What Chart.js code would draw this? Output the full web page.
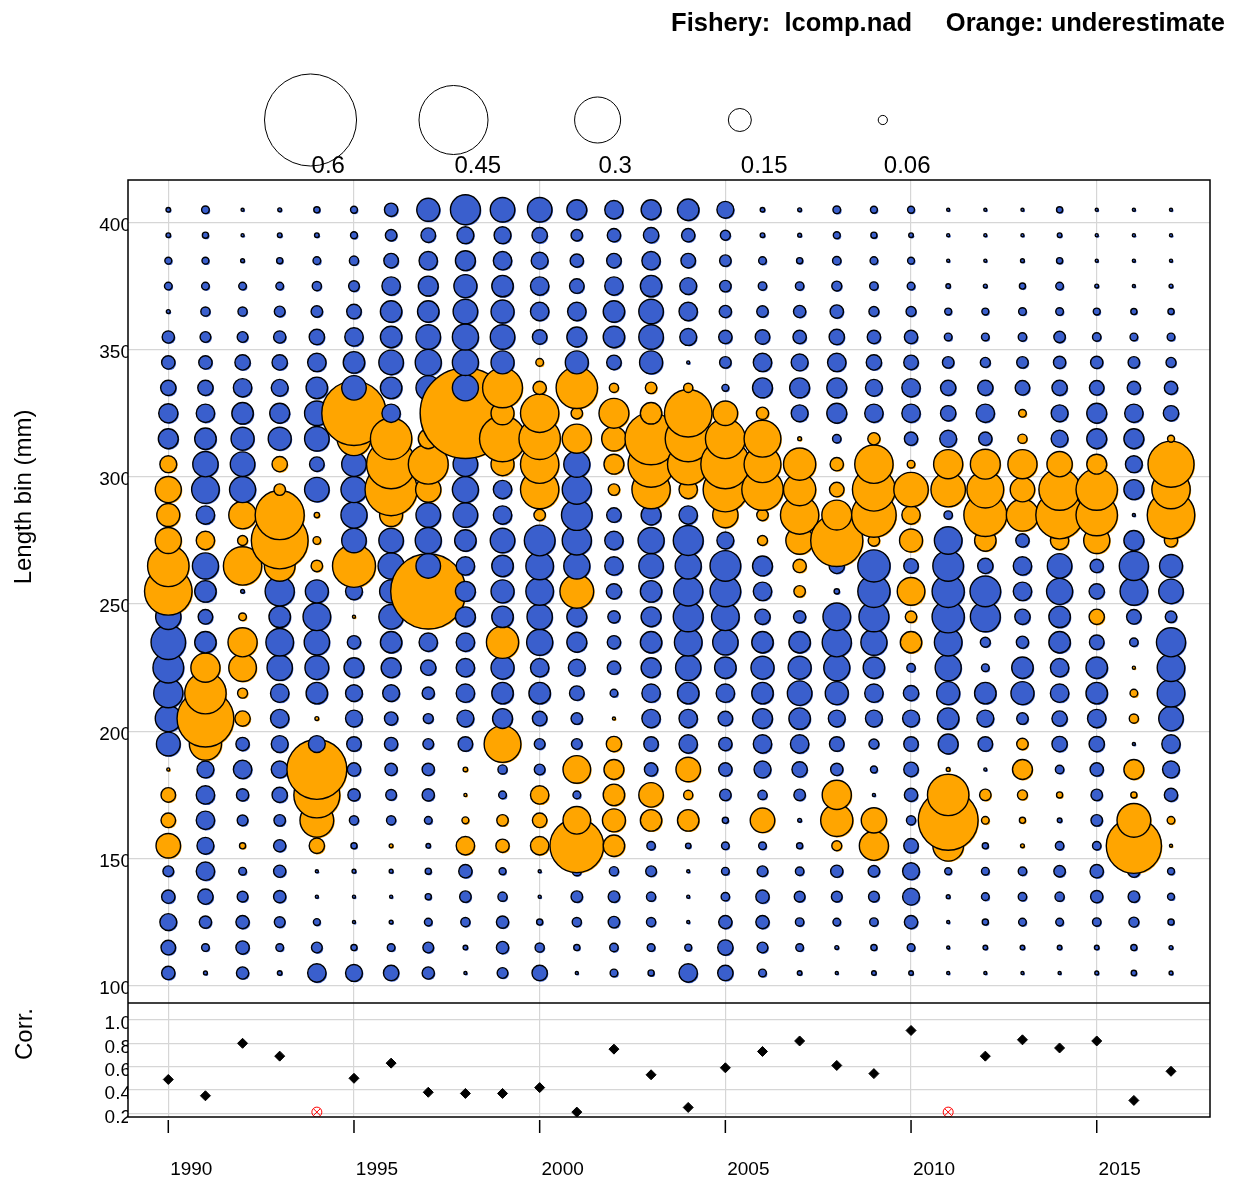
<!DOCTYPE html>
<html>
<head>
<meta charset="utf-8">
<script src="https://cdn.jsdelivr.net/npm/chart.js@4.4.1/dist/chart.umd.min.js"></script>
<style>
  html, body { margin: 0; padding: 0; background: #fff; }
  canvas { display: block; }
</style>
</head>
<body>
<canvas id="bubbleChart" width="1235" height="1179"></canvas>
<script>
// Pearson residuals, length comps, fishery lcomp.nad
// positive = orange (underestimate), negative = blue

const years = [1990, 1991, 1992, 1993, 1994, 1995, 1996, 1997, 1998, 1999,
  2000, 2001, 2002, 2003, 2004, 2005, 2006, 2007, 2008, 2009,
  2010, 2011, 2012, 2013, 2014, 2015, 2016, 2017];

// length bins, bottom to top
const bins = [105, 115, 125, 135, 145, 155, 165, 175, 185, 195, 205, 215, 225, 235, 245,
  255, 265, 275, 285, 295, 305, 315, 325, 335, 345, 355, 365, 375, 385, 395, 405];

const res1990 = [-0.087, -0.095, -0.11, -0.087, -0.07, 0.16, 0.095, 0.095, 0.02, -0.155, -0.17, -0.19, -0.2, -0.225, -0.165, 0.31, 0.27, 0.17, 0.15, 0.17, 0.11, -0.13, -0.125, -0.1, -0.087, -0.08, -0.025, -0.05, -0.045, -0.03, -0.03];
const res1991 = [-0.025, -0.05, -0.08, -0.1, -0.12, -0.11, -0.12, -0.12, -0.11, 0.21, 0.37, 0.27, 0.19, -0.14, -0.095, -0.14, -0.17, 0.12, -0.12, -0.18, -0.165, -0.14, -0.12, -0.1, -0.087, -0.07, -0.06, -0.05, -0.045, -0.04, -0.05];
const res1992 = [-0.08, -0.087, -0.087, -0.07, -0.05, 0.04, -0.07, -0.08, -0.12, -0.087, 0.1, 0.065, 0.18, 0.19, 0.05, -0.025, 0.25, 0.065, 0.18, -0.17, -0.16, -0.15, -0.14, -0.12, -0.1, -0.07, -0.06, -0.05, -0.025, -0.02, -0.02];
const res1993 = [-0.03, -0.05, -0.07, -0.08, -0.08, -0.08, -0.075, -0.1, -0.11, -0.11, -0.12, -0.12, -0.165, -0.18, -0.14, -0.19, 0.2, 0.37, 0.32, 0.075, 0.1, -0.15, -0.13, -0.11, -0.1, -0.08, -0.07, -0.05, -0.04, -0.03, -0.025];
const res1994 = [-0.12, -0.07, -0.045, -0.02, -0.02, 0.1, 0.22, 0.3, 0.39, -0.11, 0.025, -0.14, -0.155, -0.165, -0.18, -0.15, 0.075, 0.05, 0.035, -0.16, -0.095, -0.16, -0.16, -0.14, -0.12, -0.1, -0.075, -0.06, -0.05, -0.03, -0.04];
const res1995 = [-0.11, -0.04, -0.02, -0.02, -0.025, -0.04, -0.06, -0.08, -0.087, -0.095, -0.11, -0.11, -0.13, -0.087, 0.02, -0.11, 0.28, -0.16, -0.17, -0.17, -0.16, 0.22, 0.42, -0.16, -0.14, -0.12, -0.095, -0.07, -0.06, -0.045, -0.045];
const res1996 = [-0.1, -0.05, -0.025, -0.02, -0.025, 0.025, -0.06, -0.07, -0.08, -0.087, -0.087, -0.11, -0.13, -0.14, -0.16, -0.15, -0.17, -0.16, 0.15, 0.34, 0.32, 0.27, -0.12, -0.14, -0.16, -0.14, -0.14, -0.12, -0.095, -0.075, -0.087];
const res1997 = [-0.08, -0.07, -0.05, -0.04, -0.04, -0.03, -0.05, -0.08, -0.08, -0.07, -0.065, -0.08, -0.1, -0.12, -0.1, 0.49, -0.16, -0.17, -0.16, 0.165, 0.26, 0.13, 0.1, -0.16, -0.17, -0.16, -0.14, -0.13, -0.12, -0.095, -0.15];
const res1998 = [-0.02, -0.03, -0.06, -0.075, -0.087, 0.12, 0.045, 0.02, 0.03, -0.095, -0.11, -0.12, -0.12, -0.12, -0.13, -0.13, -0.12, -0.14, -0.16, -0.17, -0.16, 0.2, 0.59, -0.17, -0.17, -0.17, -0.16, -0.15, -0.13, -0.11, -0.195];
const res1999 = [-0.07, -0.08, -0.08, -0.06, -0.045, 0.087, 0.075, -0.05, -0.06, 0.24, -0.13, -0.14, -0.15, 0.21, -0.14, -0.15, -0.14, -0.16, -0.12, -0.12, 0.15, 0.3, 0.15, 0.26, -0.15, -0.16, -0.15, -0.14, -0.12, -0.11, -0.16];
const res2000 = [-0.1, -0.06, -0.04, -0.02, -0.02, 0.12, 0.095, 0.12, -0.07, -0.07, -0.095, -0.14, -0.12, -0.17, -0.165, -0.18, -0.18, -0.2, 0.075, 0.25, 0.25, 0.27, 0.25, 0.087, 0.05, -0.095, -0.12, -0.12, -0.11, -0.1, -0.16];
const res2001 = [-0.02, -0.04, -0.06, -0.075, -0.06, 0.35, 0.18, -0.05, 0.18, -0.07, -0.075, -0.095, -0.11, -0.13, -0.13, 0.22, -0.17, -0.19, -0.2, -0.19, -0.17, 0.19, 0.075, 0.27, -0.15, -0.13, -0.12, -0.095, -0.087, -0.075, -0.13];
const res2002 = [-0.05, -0.055, -0.075, -0.075, -0.06, 0.14, 0.15, 0.14, 0.13, 0.1, 0.02, -0.05, -0.087, -0.087, -0.08, -0.1, -0.12, -0.12, -0.095, 0.075, 0.13, 0.16, 0.195, 0.06, -0.095, -0.14, -0.14, -0.12, -0.095, -0.087, -0.12];
const res2003 = [-0.04, -0.05, -0.06, -0.06, -0.07, -0.055, 0.14, 0.16, -0.087, -0.095, -0.12, -0.12, -0.13, -0.14, -0.13, -0.14, -0.16, -0.17, -0.13, 0.25, 0.3, 0.34, 0.14, 0.075, -0.15, -0.16, -0.16, -0.14, -0.12, -0.1, -0.13];
const res2004 = [-0.12, -0.045, -0.02, -0.02, -0.02, -0.035, 0.14, 0.06, 0.16, -0.12, -0.12, -0.14, -0.165, -0.18, -0.195, -0.19, -0.17, -0.195, -0.12, 0.12, 0.27, 0.3, 0.31, 0.06, -0.02, -0.11, -0.12, -0.11, -0.095, -0.087, -0.14];
const res2005 = [-0.1, -0.1, -0.087, -0.055, -0.05, -0.05, -0.04, -0.075, -0.087, -0.087, -0.095, -0.12, -0.14, -0.165, -0.18, -0.2, -0.2, -0.11, 0.165, 0.29, 0.32, 0.26, 0.16, -0.045, -0.075, -0.087, -0.08, -0.075, -0.075, -0.065, -0.11];
const res2006 = [-0.05, -0.07, -0.087, -0.087, -0.07, -0.05, 0.16, -0.06, -0.11, -0.12, -0.13, -0.14, -0.15, -0.14, -0.1, -0.12, -0.13, 0.065, 0.075, 0.27, 0.24, 0.24, 0.08, -0.13, -0.12, -0.095, -0.075, -0.055, -0.05, -0.03, -0.03];
const res2007 = [-0.03, -0.05, -0.055, -0.07, -0.055, -0.04, -0.025, -0.075, -0.1, -0.12, -0.14, -0.16, -0.15, -0.14, -0.08, 0.075, 0.087, 0.18, 0.25, 0.21, 0.21, 0.025, -0.11, -0.13, -0.11, -0.087, -0.08, -0.055, -0.04, -0.025, -0.025];
const res2008 = [-0.02, -0.025, -0.05, -0.07, -0.08, 0.065, 0.21, 0.19, -0.08, -0.095, -0.11, -0.15, -0.17, -0.19, -0.18, -0.035, -0.1, 0.34, 0.195, 0.095, 0.087, -0.055, -0.13, -0.13, -0.12, -0.1, -0.087, -0.065, -0.055, -0.045, -0.05];
const res2009 = [-0.03, -0.04, -0.055, -0.07, -0.075, 0.19, 0.165, -0.02, -0.045, -0.065, -0.11, -0.12, -0.14, -0.17, -0.195, -0.21, -0.21, 0.075, 0.29, 0.28, 0.25, 0.08, -0.12, -0.11, -0.1, -0.087, -0.065, -0.055, -0.05, -0.04, -0.045];
const res2010 = [-0.03, -0.05, -0.087, -0.11, -0.11, -0.095, -0.06, -0.087, -0.095, -0.095, -0.11, -0.1, -0.055, 0.14, 0.075, 0.18, -0.095, 0.15, 0.12, 0.225, 0.05, -0.087, -0.12, -0.12, -0.095, -0.087, -0.065, -0.05, -0.045, -0.03, -0.045];
const res2011 = [-0.02, -0.02, -0.02, -0.025, -0.045, 0.2, 0.39, 0.27, 0.025, -0.13, -0.14, -0.15, -0.17, -0.18, -0.21, -0.21, -0.2, -0.18, -0.055, 0.225, 0.19, -0.11, -0.1, -0.1, -0.075, -0.05, -0.045, -0.03, -0.02, -0.02, -0.02];
const res2012 = [-0.02, -0.03, -0.04, -0.05, -0.05, -0.04, 0.05, 0.075, -0.02, -0.095, -0.11, -0.14, -0.05, -0.065, -0.195, -0.2, -0.1, 0.14, 0.28, 0.24, 0.195, -0.087, -0.12, -0.1, -0.065, -0.05, -0.045, -0.025, -0.02, -0.02, -0.02];
const res2013 = [-0.02, -0.03, -0.05, -0.055, -0.055, 0.025, 0.04, 0.065, 0.13, 0.075, -0.075, -0.15, -0.14, -0.08, -0.1, -0.12, -0.12, -0.087, 0.21, 0.16, 0.19, 0.06, 0.05, -0.095, -0.075, -0.055, -0.05, -0.04, -0.025, -0.02, -0.02];
const res2014 = [-0.02, -0.03, -0.05, -0.06, -0.075, -0.055, -0.03, 0.04, -0.055, -0.1, -0.1, -0.12, -0.12, -0.14, -0.14, -0.17, -0.16, 0.12, 0.31, 0.27, 0.165, -0.11, -0.11, -0.1, -0.08, -0.075, -0.05, -0.05, -0.04, -0.03, -0.04];
const res2015 = [-0.025, -0.03, -0.055, -0.08, -0.087, -0.055, -0.075, -0.075, -0.087, -0.1, -0.12, -0.14, -0.14, -0.095, 0.1, -0.1, -0.087, 0.17, 0.27, 0.27, 0.13, -0.13, -0.13, -0.095, -0.08, -0.055, -0.045, -0.025, -0.02, -0.02, -0.02];
const res2016 = [-0.035, -0.04, -0.065, -0.075, -0.08, 0.36, 0.22, 0.04, 0.13, -0.02, 0.06, 0.05, 0.02, -0.055, -0.095, -0.18, -0.19, -0.13, -0.02, -0.13, -0.11, -0.13, -0.12, -0.087, -0.075, -0.05, -0.04, -0.02, -0.02, -0.02, -0.02];
const res2017 = [-0.025, -0.025, -0.04, -0.045, -0.045, 0.02, 0.05, -0.087, -0.11, -0.12, -0.16, -0.18, -0.18, -0.19, -0.075, -0.16, -0.15, 0.087, 0.31, 0.25, 0.3, 0.045, -0.1, -0.087, -0.065, -0.05, -0.04, -0.025, -0.02, -0.02, -0.02];

const residByYear = [res1990, res1991, res1992, res1993, res1994, res1995, res1996, res1997, res1998, res1999,
  res2000, res2001, res2002, res2003, res2004, res2005, res2006, res2007, res2008, res2009,
  res2010, res2011, res2012, res2013, res2014, res2015, res2016, res2017];

// correlation panel
const corrValues = [0.49, 0.35, 0.80, 0.69, 0.21, 0.50, 0.63, 0.38, 0.37, 0.37,
  0.42, 0.21, 0.75, 0.53, 0.25, 0.59, 0.73, 0.82, 0.61, 0.54,
  0.91, 0.21, 0.69, 0.83, 0.76, 0.82, 0.31, 0.56];
const corrFlagged = [1994, 2011];

const legendValues = [0.6, 0.45, 0.3, 0.15, 0.06];
const legendLabels = ['0.6', '0.45', '0.3', '0.15', '0.06'];
const legendAt = [1993.83, 1997.68, 2001.56, 2005.39, 2009.24];

const xTicks = [1990, 1995, 2000, 2005, 2010, 2015];
const yTicks = [100, 150, 200, 250, 300, 350, 400];
const corrTicks = [0.2, 0.4, 0.6, 0.8, 1.0];

const BLUE = '#3A5FCD';
const ORANGE = '#FFA500';
const GRID = '#d6d6d6';
const FONT = "'Liberation Sans', Arial, sans-serif";
const PX_PER_UNIT = 76.7; // bubble radius in px for a residual of 1

const bubblePoints = [];
years.forEach((yr, i) => {
    residByYear[i].forEach((v, j) => {
        bubblePoints.push({ x: yr, y: bins[j], r: Math.abs(v) * PX_PER_UNIT, v: v });
    });
});

const corrPoints = [];
const flaggedPoints = [];
years.forEach((yr, i) => {
    if (corrFlagged.includes(yr)) flaggedPoints.push({ x: yr, y: corrValues[i] });
    else corrPoints.push({ x: yr, y: corrValues[i] });
});

const fixedTicks = list => scale => { scale.ticks = list.map(v => ({ value: v })); };

// offset fill under each bubble, like the halo in the original png
const bubbleHalo = {
    id: 'bubbleHalo',
    beforeDatasetDraw(chart, args) {
        if (args.index !== 0) return;
        const ctx = chart.ctx;
        ctx.save();
        args.meta.data.forEach(el => {
            ctx.fillStyle = el.options.backgroundColor;
            ctx.beginPath();
            ctx.arc(el.x + 1, el.y + 1, el.options.radius, 0, Math.PI * 2);
            ctx.fill();
        });
        ctx.restore();
    }
};

const frameAndText = {
    id: 'frameAndText',
    afterDraw(chart) {
        const { ctx, chartArea: a, scales } = chart;
        ctx.save();

        // box + panel separator
        ctx.strokeStyle = '#000';
        ctx.lineWidth = 1.5;
        ctx.strokeRect(a.left, a.top, a.right - a.left, a.bottom - a.top);
        ctx.beginPath();
        ctx.moveTo(a.left, scales.y.bottom);
        ctx.lineTo(a.right, scales.y.bottom);
        ctx.stroke();

        // year tick marks, a little below the box
        xTicks.forEach(t => {
            const x = scales.x.getPixelForValue(t);
            ctx.beginPath();
            ctx.moveTo(x, a.bottom + 3);
            ctx.lineTo(x, a.bottom + 16);
            ctx.stroke();
        });

        // size legend above the plot
        const ly = a.top - 60;
        ctx.lineWidth = 1;
        ctx.fillStyle = '#000';
        ctx.font = '24px ' + FONT;
        ctx.textAlign = 'left';
        ctx.textBaseline = 'alphabetic';
        legendValues.forEach((v, i) => {
            const x = scales.x.getPixelForValue(legendAt[i]);
            ctx.beginPath();
            ctx.arc(x, ly, v * PX_PER_UNIT, 0, Math.PI * 2);
            ctx.fillStyle = '#fff';
            ctx.fill();
            ctx.stroke();
            ctx.fillStyle = '#000';
            ctx.fillText(legendLabels[i], x + 1, ly + 53);
        });

        // header
        ctx.font = 'bold 25.5px ' + FONT;
        ctx.textAlign = 'right';
        ctx.fillText('Orange: underestimate', 1225, 31);
        ctx.fillText('Fishery:  lcomp.nad', 912, 31);

        // axis titles
        ctx.font = '24px ' + FONT;
        ctx.textAlign = 'center';
        ctx.save();
        ctx.translate(31, 497);
        ctx.rotate(-Math.PI / 2);
        ctx.fillText('Length bin (mm)', 0, 0);
        ctx.restore();
        ctx.save();
        ctx.translate(32, 1034);
        ctx.rotate(-Math.PI / 2);
        ctx.fillText('Corr.', 0, 0);
        ctx.restore();

        ctx.restore();
    }
};

new Chart(document.getElementById('bubbleChart'), {
    type: 'bubble',
    data: {
        datasets: [
            {
                type: 'bubble',
                data: bubblePoints,
                yAxisID: 'y',
                backgroundColor: c => (c.raw && c.raw.v > 0 ? ORANGE : BLUE),
                borderColor: '#000',
                borderWidth: 1.4,
                hoverRadius: 0
            },
            {
                type: 'scatter',
                data: corrPoints,
                yAxisID: 'yc',
                pointStyle: 'rectRot',
                pointRadius: 5,
                backgroundColor: '#000',
                borderColor: '#000',
                borderWidth: 1
            },
            {
                type: 'scatter',
                data: flaggedPoints,
                yAxisID: 'yc',
                pointStyle: 'circle',
                pointRadius: 5,
                backgroundColor: 'rgba(0,0,0,0)',
                borderColor: '#ff0000',
                borderWidth: 1
            },
            {
                type: 'scatter',
                data: flaggedPoints,
                yAxisID: 'yc',
                pointStyle: 'crossRot',
                pointRadius: 5,
                borderColor: '#ff0000',
                borderWidth: 1
            }
        ]
    },
    options: {
        responsive: false,
        animation: false,
        events: [],
        layout: { autoPadding: false, padding: { top: 180, right: 25, bottom: 0, left: 0 } },
        plugins: { legend: { display: false }, tooltip: { enabled: false } },
        scales: {
            x: {
                type: 'linear',
                position: 'bottom',
                min: 1988.915,
                max: 2018.05,
                afterBuildTicks: fixedTicks(xTicks),
                afterFit: s => { s.height = 62; },
                border: { display: false },
                grid: { color: GRID, lineWidth: 1.2, drawTicks: true, tickLength: 41, tickColor: 'rgba(0,0,0,0)' },
                ticks: {
                    align: 'center', labelOffset: 23, padding: 0, maxRotation: 0, minRotation: 0, autoSkip: false,
                    color: '#000', font: { size: 19, family: FONT }, callback: v => String(v)
                }
            },
            yc: {
                type: 'linear',
                position: 'left',
                stack: 'panels',
                stackWeight: 114,
                min: 0.168,
                max: 1.1457,
                afterBuildTicks: fixedTicks(corrTicks),
                afterFit: s => { s.width = 128; },
                border: { display: false },
                grid: { color: GRID, lineWidth: 1.2, drawTicks: false },
                ticks: { autoSkip: false, padding: -3, labelOffset: 4, color: '#000', font: { size: 19, family: FONT }, callback: v => v.toFixed(1) }
            },
            y: {
                type: 'linear',
                position: 'left',
                stack: 'panels',
                stackWeight: 823,
                min: 93.2,
                max: 416.7,
                afterBuildTicks: fixedTicks(yTicks),
                afterFit: s => { s.width = 128; },
                border: { display: false },
                grid: { color: GRID, lineWidth: 1.2, drawTicks: false },
                ticks: { autoSkip: false, padding: -3, labelOffset: 3, color: '#000', font: { size: 19, family: FONT }, callback: v => String(v) }
            }
        }
    },
    plugins: [bubbleHalo, frameAndText]
});
</script>
</body>
</html>
